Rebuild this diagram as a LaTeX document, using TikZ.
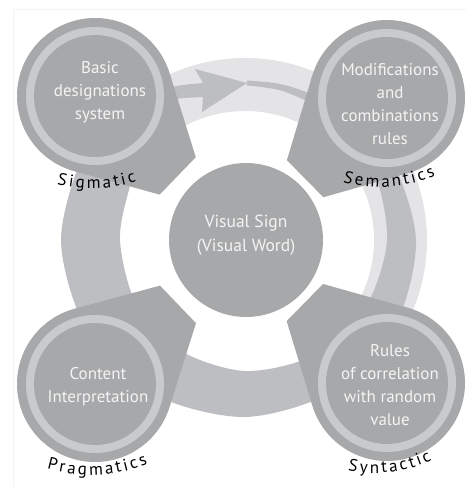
\documentclass[tikz,border=0pt]{standalone}
\usepackage{fontspec}
\setmainfont{PT Sans}
\usetikzlibrary{decorations.text}

\definecolor{petal}{HTML}{A7A8AA}
\definecolor{petalring}{HTML}{C9CACC}
\definecolor{ringmid}{HTML}{BDBEC1}
\definecolor{ringlight}{HTML}{E4E4E6}
\definecolor{petaltext}{HTML}{F4F4F4}
\definecolor{frameline}{HTML}{F3F3F3}

% one round petal with a blunt tail pointing along its local x axis
\newcommand\drawpetal[3]{%
  \begin{scope}[shift={(#1,#2)}, rotate=#3]
    \fill[petal] (0,0) circle[radius=78];
    \fill[petal] (60.3:78) -- (115,26) -- (115,-26) -- (-60.3:78) -- cycle;
    \fill[petalring] (0,0) circle[radius=69];
    \fill[petal] (0,0) circle[radius=61];
  \end{scope}}
\newcommand\lblsize{\fontsize{17}{17}\selectfont}

\begin{document}
\begin{tikzpicture}[x=1pt, y=-1pt,
  petaltxt/.style={text=petaltext, align=center, inner sep=0pt,
    font=\fontsize{17}{23}\selectfont},
  arclabel/.style={decorate, decoration={text along path, text={#1}}}]
\useasboundingbox (0,0) rectangle (466,486);

% faint page frame
\draw[frameline, line width=0.7] (13,486) -- (13,9) -- (466,9);

% the cycle: light band and the growing arrow around the centre
\begin{scope}[shift={(245,240)}]
  \fill[ringlight] (215:182) arc[start angle=215, end angle=415, radius=182]
    -- (415:129) arc[start angle=415, end angle=215, radius=129] -- cycle;
  \fill[ringmid] (2,-157) -- (-50,-171) -- (-42,-157) -- (-62,-155) -- (-80,-152)
    -- plot[smooth] coordinates {(230:172) (210:183) (180:184) (150:182)
         (120:179) (90:177) (60:175) (30:173) (0:171) (-30:167) (-55:162)
         (-75:160) (-89.3:159.5)}
    -- plot[smooth] coordinates {(-89.3:154.5) (-75:153.5) (-55:151)
         (-30:147) (0:142) (30:138) (60:134) (90:131) (120:128) (150:126)
         (180:125) (205:127) (225:140)}
    -- (-80,-139) -- (-62,-142) -- (-42,-143) -- (-43,-128) -- cycle;
\end{scope}

% centre
\fill[petal] (246,240) circle[radius=77];
\node[petaltxt, font=\fontsize{17.5}{24}\selectfont] (sign) at (246,235)
  {Visual Sign\\(Visual Word)};

% four petals
\drawpetal{95}{96}{-44}
\drawpetal{387}{98}{-135.4}
\drawpetal{95}{384}{43.8}
\drawpetal{387}{383}{135.6}

\node[petaltxt] (basic) at (100,92) {Basic\\designations\\system};
\node[petaltxt] (modif) at (390,104) {Modifications\\and\\combinations\\rules};
\node[petaltxt] (content) at (98,387) {Content\\Interpretation};
\node[petaltxt] (rules) at (390,385) {Rules\\of correlation\\with random\\value};

% curved captions
\path[arclabel={|\lblsize|S{\kern2.5pt}i{\kern2.5pt}g{\kern2.5pt}m{\kern2.5pt}a{\kern2.5pt}t{\kern2.5pt}i{\kern2.5pt}c}]
  (57,184.3) arc[start angle=103.5, end angle=40, radius=150];
\path[arclabel={|\lblsize|S{\kern2.5pt}e{\kern2.5pt}m{\kern2.5pt}a{\kern2.5pt}n{\kern2.5pt}t{\kern2.5pt}i{\kern2.5pt}c{\kern2.5pt}s}]
  (343,182) arc[start angle=105.3, end angle=30, radius=140];
\path[arclabel={|\lblsize|P{\kern2.5pt}r{\kern2.5pt}a{\kern2.5pt}g{\kern2.5pt}m{\kern2.5pt}a{\kern2.5pt}t{\kern2.5pt}i{\kern2.5pt}c{\kern2.5pt}s}]
  (47,468.9) arc[start angle=106.1, end angle=40, radius=155];
\path[arclabel={|\lblsize|S{\kern2.5pt}y{\kern2.5pt}n{\kern2.5pt}t{\kern2.5pt}a{\kern2.5pt}c{\kern2.5pt}t{\kern2.5pt}i{\kern2.5pt}c}]
  (348,470.2) arc[start angle=102, end angle=30, radius=130];
\end{tikzpicture}
\end{document}
